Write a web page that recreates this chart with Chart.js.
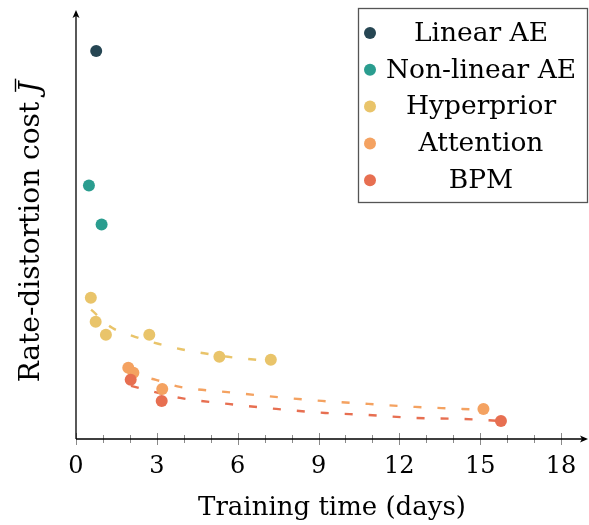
<!DOCTYPE html>
<html>
<head>
<meta charset="utf-8">
<script src="https://cdn.jsdelivr.net/npm/chart.js@4/dist/chart.umd.min.js"></script>
<style>
  html, body { margin: 0; padding: 0; background: #fff; overflow: hidden; }
  canvas { display: block; }
</style>
</head>
<body>
<canvas id="chart" width="589" height="525"></canvas>
<script>
// Training time (days) and rate-distortion cost (arbitrary units) per model
const linearX    = [0.75];
const linearY    = [3.87];
const nonlinX    = [0.48, 0.95];
const nonlinY    = [2.53, 2.14];
const hyperX     = [0.55, 0.73, 1.11, 2.72, 5.32, 7.23];
const hyperY     = [1.41, 1.17, 1.04, 1.04, 0.82, 0.79];
const attnX      = [1.94, 2.13, 3.20, 15.12];
const attnY      = [0.71, 0.66, 0.50, 0.30];
const bpmX       = [2.03, 3.18, 15.77];
const bpmY       = [0.59, 0.38, 0.18];

// dashed trend curves
const hyperFitX  = [0.56, 1.34, 2.19, 3.05, 3.90, 4.75, 5.64, 6.72];
const hyperFitY  = [1.29, 1.11, 1.02, 0.95, 0.895, 0.855, 0.82, 0.79];
const attnFitX   = [1.93, 2.97, 3.86, 5.53, 7.39, 9.13, 10.84, 12.59, 14.33, 15.04];
const attnFitY   = [0.65, 0.59, 0.52, 0.47, 0.42, 0.38, 0.35, 0.32, 0.30, 0.29];
const bpmFitX    = [2.04, 3.05, 3.86, 5.64, 7.43, 9.25, 10.84, 12.59, 14.33, 15.74];
const bpmFitY    = [0.53, 0.46, 0.41, 0.35, 0.30, 0.26, 0.24, 0.21, 0.20, 0.18];

const seriesNames  = ['Linear AE', 'Non-linear AE', 'Hyperprior', 'Attention', 'BPM'];
const seriesColors = ['#264653', '#2a9d8f', '#e9c46a', '#f4a261', '#e76f51'];

const SERIF = '"DejaVu Serif", "Liberation Serif", serif';

const zip = (xs, ys) => xs.map((x, i) => ({ x, y: ys[i] }));

const pointSets = [
  zip(linearX, linearY),
  zip(nonlinX, nonlinY),
  zip(hyperX, hyperY),
  zip(attnX, attnY),
  zip(bpmX, bpmY)
];

// later series are drawn on top (BPM over Attention)
const scatterDatasets = pointSets.map((pts, i) => ({
  label: seriesNames[i],
  data: pts,
  showLine: false,
  pointRadius: 6,
  pointHoverRadius: 6,
  pointBackgroundColor: seriesColors[i],
  pointBorderWidth: 0,
  order: 4 - i
}));

const fitDatasets = [
  [hyperFitX, hyperFitY, seriesColors[2]],
  [attnFitX, attnFitY, seriesColors[3]],
  [bpmFitX, bpmFitY, seriesColors[4]]
].map(([xs, ys, c]) => ({
  label: 'fit',
  data: zip(xs, ys),
  showLine: true,
  borderColor: c,
  borderWidth: 2.4,
  borderDash: [8, 16],
  tension: 0.4,
  cubicInterpolationMode: 'monotone',
  pointRadius: 0,
  fill: false,
  order: 10
}));

// axes with arrows and crossing tick marks
const axisDecor = {
  id: 'axisDecor',
  afterDatasetsDraw(chart) {
    const { ctx, chartArea: a, scales } = chart;
    const x0 = scales.x.getPixelForValue(0);
    const y0 = scales.y.getPixelForValue(0);
    ctx.save();
    ctx.strokeStyle = '#8a8a8a';
    ctx.lineWidth = 1;
    for (let v = 0; v <= 18; v++) {
      const px = Math.round(scales.x.getPixelForValue(v)) + 0.5;
      const h = v % 3 === 0 ? 6 : 4;
      ctx.beginPath();
      ctx.moveTo(px, y0 - h);
      ctx.lineTo(px, y0 + h);
      ctx.stroke();
    }
    ctx.strokeStyle = '#000';
    ctx.fillStyle = '#000';
    ctx.lineWidth = 1.3;
    ctx.beginPath();
    ctx.moveTo(x0, y0);
    ctx.lineTo(a.right - 2, y0);
    ctx.moveTo(x0, y0);
    ctx.lineTo(x0, a.top + 2);
    ctx.stroke();
    // arrow heads
    ctx.beginPath();
    ctx.moveTo(a.right, y0);
    ctx.lineTo(a.right - 8, y0 - 3.5);
    ctx.lineTo(a.right - 6, y0);
    ctx.lineTo(a.right - 8, y0 + 3.5);
    ctx.closePath();
    ctx.fill();
    ctx.beginPath();
    ctx.moveTo(x0, a.top);
    ctx.lineTo(x0 - 3.5, a.top + 8);
    ctx.lineTo(x0, a.top + 6);
    ctx.lineTo(x0 + 3.5, a.top + 8);
    ctx.closePath();
    ctx.fill();
    ctx.restore();
  }
};

// rotated y title with italic, overlined J
const yTitle = {
  id: 'yTitle',
  afterDraw(chart) {
    const { ctx } = chart;
    const main = 'Rate-distortion cost ';
    const size = 28;
    ctx.save();
    ctx.font = size + 'px ' + SERIF;
    const w1 = ctx.measureText(main).width;
    ctx.font = 'italic ' + size + 'px ' + SERIF;
    const w2 = ctx.measureText('J').width;
    const total = w1 + w2;
    ctx.translate(39, 232);
    ctx.rotate(-Math.PI / 2);
    ctx.fillStyle = '#000';
    ctx.textBaseline = 'alphabetic';
    ctx.textAlign = 'left';
    ctx.font = size + 'px ' + SERIF;
    ctx.fillText(main, -total / 2, 0);
    ctx.font = 'italic ' + size + 'px ' + SERIF;
    ctx.fillText('J', -total / 2 + w1, 0);
    ctx.strokeStyle = '#000';
    ctx.lineWidth = 1.4;
    ctx.beginPath();
    ctx.moveTo(-total / 2 + w1 + 1, -23.5);
    ctx.lineTo(-total / 2 + w1 + w2 + 3, -23.5);
    ctx.stroke();
    ctx.restore();
  }
};

// boxed legend with centred labels
const boxLegend = {
  id: 'boxLegend',
  afterDraw(chart) {
    const { ctx } = chart;
    ctx.save();
    ctx.fillStyle = '#fff';
    ctx.fillRect(358, 8, 229, 194);
    ctx.strokeStyle = '#555';
    ctx.lineWidth = 1.3;
    ctx.strokeRect(358.5, 8.5, 229, 194);
    ctx.font = '26.5px ' + SERIF;
    ctx.textAlign = 'center';
    ctx.textBaseline = 'middle';
    seriesNames.forEach((name, i) => {
      const yy = 33 + i * 36.8;
      ctx.fillStyle = seriesColors[i];
      ctx.beginPath();
      ctx.arc(370, yy, 6, 0, Math.PI * 2);
      ctx.fill();
      ctx.fillStyle = '#000';
      ctx.fillText(name, 481, yy + 1);
    });
    ctx.restore();
  }
};

new Chart(document.getElementById('chart'), {
  type: 'scatter',
  data: { datasets: [...scatterDatasets, ...fitDatasets] },
  plugins: [axisDecor, yTitle, boxLegend],
  options: {
    responsive: false,
    animation: false,
    layout: { autoPadding: false, padding: { left: 76, top: 10, right: 1, bottom: 4 } },
    plugins: {
      legend: { display: false },
      tooltip: { enabled: false }
    },
    scales: {
      x: {
        type: 'linear',
        min: 0,
        max: 19,
        grid: { display: false, drawTicks: false },
        border: { display: false },
        afterFit: s => { s.paddingLeft = 0; s.paddingRight = 0; },
        ticks: {
          stepSize: 1,
          autoSkip: false,
          maxRotation: 0,
          padding: 16,
          color: '#000',
          font: { family: SERIF, size: 24, lineHeight: 1 },
          callback: v => (v % 3 === 0 && v <= 18) ? String(v) : ''
        },
        title: {
          display: true,
          text: 'Training time (days)',
          color: '#000',
          font: { family: SERIF, size: 26, lineHeight: 1 },
          padding: { top: 0, bottom: 0 }
        }
      },
      y: {
        display: false,
        min: 0,
        max: 4.28
      }
    }
  }
});
</script>
</body>
</html>
